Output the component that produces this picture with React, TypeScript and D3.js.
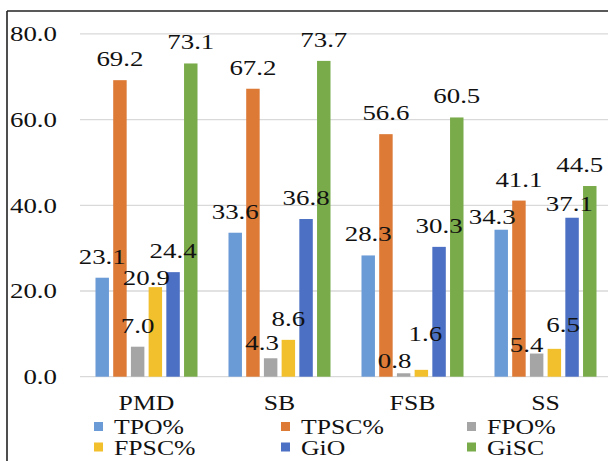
import React from "react";
import * as d3 from "d3";

const categories = ["PMD", "SB", "FSB", "SS"];
const seriesNames = ["TPO%", "TPSC%", "FPO%", "FPSC%", "GiO", "GiSC"];
const tpo = [23.1, 33.6, 28.3, 34.3];
const tpsc = [69.2, 67.2, 56.6, 41.1];
const fpo = [7.0, 4.3, 0.8, 5.4];
const fpsc = [20.9, 8.6, 1.6, 6.5];
const gio = [24.4, 36.8, 30.3, 37.1];
const gisc = [73.1, 73.7, 60.5, 44.5];
const yTicks = [0, 20, 40, 60, 80];

const seriesValues = [tpo, tpsc, fpo, fpsc, gio, gisc];
const colors = ["#6B9BD6", "#DC7A36", "#A5A5A5", "#F1C02C", "#4C70C3", "#7AAB4A"];

// manual label nudges (series index, category index) -> [dx, dy]
const labelNudge: Record<string, [number, number]> = {
  "3-0": [-9, 12],
  "2-1": [-8.5, 6],
  "2-2": [-9, 9],
  "3-2": [4, -15],
  "0-3": [-9, 8],
  "2-3": [-10, 12.5],
  "3-3": [8.7, -2.6],
  "4-3": [-2.7, 7],
  "5-3": [-10, 0],
};

const W = 608;
const H = 461;
const FONT = "'Liberation Serif', 'Times New Roman', serif";
const NUM_SX = 1.28;
const TXT_SX = 1.17;

export default function App() {
  const y = d3.scaleLinear().domain([0, 80]).range([376.7, 33.9]);
  const x0 = d3
    .scaleBand<string>()
    .domain(categories)
    .range([80, 612])
    .paddingInner(0.233)
    .paddingOuter(0.1165);
  const x1 = d3
    .scaleBand<string>()
    .domain(seriesNames)
    .range([0, x0.bandwidth()])
    .paddingInner(0.24)
    .paddingOuter(0);

  const legendCols = [114, 301, 487];
  const legendRows = [434, 454.5];

  return (
    <svg
      width={W}
      height={H}
      style={{ position: "absolute", left: 0, top: 0, background: "#fff" }}
      fontFamily={FONT}
    >
      <rect x={0} y={0} width={W} height={H} fill="#fff" />
      {/* gridlines */}
      {yTicks.map((t) => (
        <line
          key={"g" + t}
          x1={80}
          x2={W}
          y1={y(t)}
          y2={y(t)}
          stroke="#D9D9D9"
          strokeWidth={1.3}
        />
      ))}
      {/* y tick labels */}
      {yTicks.map((t) => (
        <g key={"t" + t} transform={`translate(57,${y(t) + 7.2}) scale(${NUM_SX},1)`}>
          <text textAnchor="end" fontSize={21} fill="#111">
            {t.toFixed(1)}
          </text>
        </g>
      ))}
      {/* bars */}
      {categories.map((c, ci) => (
        <g key={c} transform={`translate(${x0(c)},0)`}>
          {seriesNames.map((s, si) => {
            const v = seriesValues[si][ci];
            return (
              <rect
                key={s}
                x={x1(s)}
                y={y(v)}
                width={x1.bandwidth()}
                height={y(0) - y(v)}
                fill={colors[si]}
              />
            );
          })}
        </g>
      ))}
      {/* value labels */}
      {categories.map((c, ci) =>
        seriesNames.map((s, si) => {
          const v = seriesValues[si][ci];
          const nudge = labelNudge[`${si}-${ci}`] || [0, 0];
          const cx = (x0(c) as number) + (x1(s) as number) + x1.bandwidth() / 2 + nudge[0];
          const by = y(v) - 14 + nudge[1];
          return (
            <g key={c + s} transform={`translate(${cx},${by}) scale(${NUM_SX},1)`}>
              <text textAnchor="middle" fontSize={21} fill="#111">
                {v.toFixed(1)}
              </text>
            </g>
          );
        })
      )}
      {/* category labels */}
      {categories.map((c) => (
        <g
          key={"c" + c}
          transform={`translate(${(x0(c) as number) + x0.bandwidth() / 2},409.5) scale(${TXT_SX},1)`}
        >
          <text textAnchor="middle" fontSize={22} fill="#111">
            {c}
          </text>
        </g>
      ))}
      {/* legend */}
      {seriesNames.map((s, i) => {
        const col = i % 3;
        const row = Math.floor(i / 3);
        const tx = legendCols[col];
        const ty = legendRows[row];
        return (
          <g key={"l" + s}>
            <rect x={tx - 20} y={ty - 12} width={9} height={9} fill={colors[i]} />
            <g transform={`translate(${tx},${ty}) scale(${TXT_SX},1)`}>
              <text fontSize={22} fill="#111">
                {s}
              </text>
            </g>
          </g>
        );
      })}
      {/* border */}
      <line x1={7} x2={W} y1={11} y2={11} stroke="#222" strokeWidth={1.6} />
      <line x1={7} x2={7} y1={11} y2={H} stroke="#222" strokeWidth={1.6} />
    </svg>
  );
}
